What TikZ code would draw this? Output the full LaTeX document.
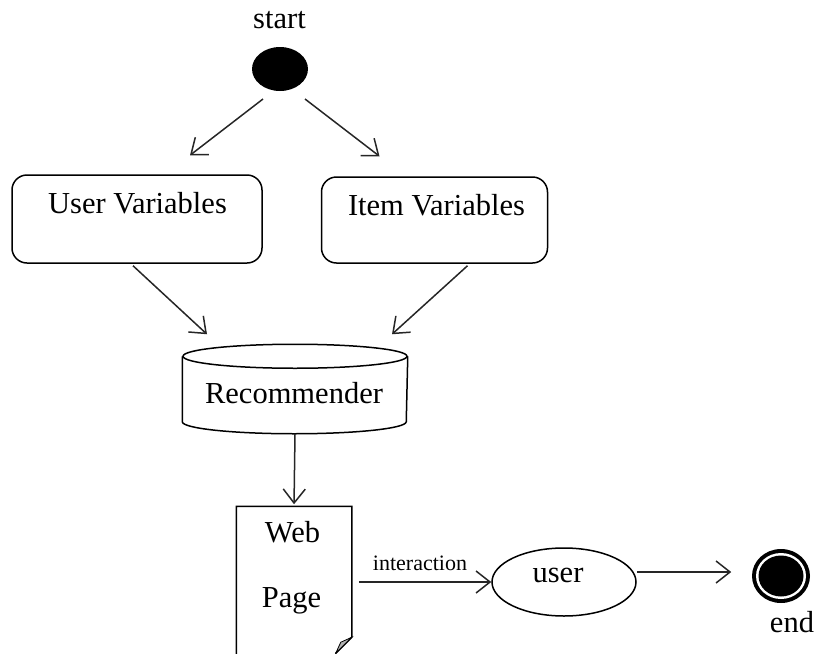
\documentclass[tikz,border=0pt]{standalone}
\usepackage{fontspec}
\setmainfont{Liberation Serif}
\usetikzlibrary{arrows.meta,shapes.geometric,calc}
\begin{document}
\begin{tikzpicture}[x=1pt,y=-1pt,line width=1.5pt,
  arr/.style={draw=black!85,-{Straight Barb[length=14pt,width=22pt,line width=1.5pt]}},
  lbl/.style={inner sep=0pt,anchor=base,font=\fontsize{30.5}{36}\selectfont},
  small/.style={inner sep=0pt,anchor=base,font=\fontsize{22}{26}\selectfont},
  box/.style={draw,rounded corners=15pt,inner sep=0pt},
  blob/.style={ellipse,fill=black,inner sep=0pt}]
\useasboundingbox (0,0) rectangle (815,654);
% start
\node[blob,minimum width=56pt,minimum height=44pt] (start) at (280,69) {};
\node[lbl] (starttxt) at (279.5,28) {start};
% boxes
\node[box,minimum width=250pt,minimum height=88pt] (uv) at (137,219) {};
\node[lbl] (uvtxt) at (137.5,213) {User Variables};
\node[box,minimum width=226pt,minimum height=86pt] (iv) at (434.5,220) {};
\node[lbl] (ivtxt) at (436.5,215) {Item Variables};
% recommender cylinder
\node[inner sep=0pt,minimum width=224pt,minimum height=88pt] (rec) at (295,389) {};
\draw (rec.north) ++(0,12) ellipse [x radius=112pt,y radius=12pt];
\draw ($(rec.north west)+(0,12)$) -- ($(rec.south west)+(0,-12)$)
      arc [start angle=180,end angle=360,x radius=112pt,y radius=12pt]
      -- ($(rec.north east)+(0,12)$);
\node[lbl] (rectxt) at (294,403) {Recommender};
% web page
\node[inner sep=0pt,minimum width=114pt,minimum height=160pt] (wp) at (294,587) {};
\draw (wp.south west) -- (wp.north west) -- (wp.north east) -- ($(wp.north east)+(0,131)$) -- ($(wp.north east)+(-16,147)$);
\filldraw[fill=black!30,line width=0.8pt] ($(wp.north east)+(0,131)$) -- ($(wp.north east)+(-11,136)$) -- ($(wp.north east)+(-16,147)$) -- cycle;
\node[lbl] (webtxt) at (292.5,542) {Web};
\node[lbl] (pagetxt) at (291.5,607) {Page};
% user
\node[ellipse,draw,inner sep=0pt,minimum width=144pt,minimum height=68pt] (user) at (564,582) {};
\node[lbl] (usertxt) at (558,582) {user};
% end
\node[blob,minimum width=58pt,minimum height=54pt] (endn) at (781,576) {};
\fill[white] (endn.center) ellipse [x radius=25pt,y radius=23pt];
\fill[black] (endn.center) ellipse [x radius=22.5pt,y radius=20.5pt];
\node[lbl] (endtxt) at (792,632) {end};
% connectors
\draw[arr] ($(start)+(-17,30)$) -- ($(uv.north)+(53,-19)$);
\draw[arr] ($(start)+(25,30)$) -- ($(iv.north)+(-55,-20)$);
\draw[arr] ($(uv.south)+(-4,2)$) -- ($(rec.north)+(-88,-10)$);
\draw[arr] ($(iv.south)+(33,2)$) -- ($(rec.north)+(97,-10)$);
\draw[arr,shorten >=2pt] (rec.south) -- (wp.north);
\draw[arr] ($(wp.east)+(7,-5)$) -- (user.west);
\node[small] (inttxt) at (420,570) {interaction};
\draw[arr] ($(user.east)+(0,-10)$) -- ($(endn.west)+(-20,-4)$);
\end{tikzpicture}
\end{document}
